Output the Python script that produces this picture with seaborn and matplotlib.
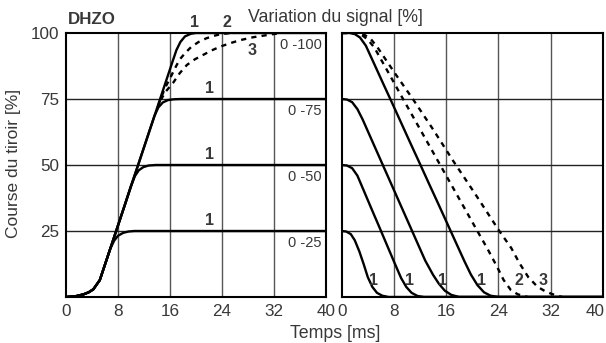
import numpy as np
import pandas as pd
import matplotlib
matplotlib.use("Agg")
import matplotlib.pyplot as plt
import matplotlib.transforms as mtrans
import seaborn as sns

# opening curves (left panel), time in ms, stroke in %
open_25_t = [0, 1.5, 2.7, 3.5, 4.2, 5.2, 6.0, 6.8, 7.4, 8.0, 8.8, 9.6, 10.5, 40]
open_25_y = [0, 0.3, 1.0, 1.8, 2.9, 6.4, 12.3, 18.2, 21.3, 23.2, 24.3, 24.8, 25, 25]
open_50_t = [0, 1.5, 2.7, 3.5, 4.2, 5.2, 6, 7, 8, 9, 10, 10.6, 11.2, 11.9, 12.7, 13.8, 40]
open_50_y = [0, 0.3, 1, 1.8, 2.9, 6.4, 12.3, 19.7, 27.1, 34.5, 42, 45.8, 48, 49.2, 49.8, 50, 50]
open_75_t = [0, 1.5, 2.7, 3.5, 4.2, 5.2, 6, 7, 8, 9, 10, 11, 12, 13, 13.6, 14.2, 14.9, 15.7, 16.6, 17.6, 40]
open_75_y = [0, 0.3, 1, 1.8, 2.9, 6.4, 12.3, 19.7, 27.1, 34.5, 42, 49.3, 56.7, 64.1, 68.5, 71.8, 73.7, 74.6, 74.9, 75, 75]
open_100_t = [0, 1.5, 2.7, 3.5, 4.2, 5.2, 6, 7, 8, 9, 10, 11, 12, 13, 14, 15, 16, 16.5, 17, 17.6, 18.3, 19.2, 20, 40]
open_100_y = [0, 0.3, 1, 1.8, 2.9, 6.4, 12.3, 19.7, 27.1, 34.5, 42, 49.3, 56.7, 64.1, 71.5, 78.9, 86.3, 90, 93.6, 96.6, 98.7, 99.7, 100, 100]
open_d2_t = [14.2, 14.7, 15.3, 16.0, 16.8, 17.5, 18.4, 19.3, 20.4, 21.6, 22.7, 23.7, 25, 26]
open_d2_y = [72.5, 75.9, 79.5, 82.8, 86.8, 90.0, 92.6, 94.8, 96.6, 98.0, 98.9, 99.5, 99.9, 100]
open_d3_t = [14.0, 14.5, 15.4, 16.5, 17.5, 18.6, 19.8, 21.1, 22.4, 23.7, 25.2, 26.8, 28.8, 30.9, 32.5]
open_d3_y = [71.0, 74.4, 78.0, 81.2, 84.8, 87.9, 90.0, 91.7, 93.4, 94.8, 96.1, 97.3, 98.4, 99.2, 99.8]

# closing curves (right panel)
close_25_t = [0, 0.7, 1.4, 2.0, 2.7, 3.4, 4.0, 4.7, 5.4, 6.2, 7.2, 40]
close_25_y = [25, 24.8, 23.8, 21.5, 17.3, 12.2, 7.5, 3.8, 1.6, 0.5, 0, 0]
close_50_t = [0, 0.8, 1.6, 2.4, 3.4, 4.6, 5.8, 7.0, 8.1, 9.1, 9.9, 10.7, 11.6, 12.6, 40]
close_50_y = [50, 49.8, 48.8, 46, 40.2, 33.2, 26.3, 19.3, 12.9, 7.2, 3.8, 1.6, 0.4, 0, 0]
close_75_t = [0, 0.8, 1.6, 2.4, 3.2, 4.4, 5.8, 7.2, 8.6, 10, 11.4, 12.8, 14.0, 14.9, 15.8, 16.8, 18, 40]
close_75_y = [75, 74.8, 73.8, 71.2, 67.3, 60.6, 52.8, 45, 37.2, 29.4, 21.6, 13.8, 8.4, 5, 2.4, 0.8, 0, 0]
close_100_t = [0, 1.2, 2.0, 2.8, 3.7, 5.0, 6.4, 7.8, 9.2, 10.6, 12, 13.4, 14.8, 16.2, 17.6, 18.8, 19.8, 20.8, 21.8, 22.8, 24, 40]
close_100_y = [100, 100, 99.6, 98.3, 95.2, 88.2, 80.6, 73.1, 65.5, 57.9, 50.4, 42.8, 35.3, 27.7, 20.1, 13.6, 8.5, 4.5, 1.8, 0.5, 0, 0]
close_d2_t = [0, 2, 3, 4, 5, 7.2, 9.4, 12, 14.8, 17.6, 20.4, 22.4, 23.8, 24.8, 25.9, 27, 28.5]
close_d2_y = [100, 100, 99.4, 97.5, 94.5, 84.8, 75, 63.6, 51.3, 39, 26.7, 18, 11.5, 6.5, 2.7, 1, 0]
close_d3_t = [0, 2.5, 3.5, 4.5, 5.5, 8.2, 10.9, 14, 17.1, 20.6, 24.1, 26, 27.2, 28.6, 30, 31.3, 32.6, 33.8]
close_d3_y = [100, 100, 99.3, 97.6, 94.5, 84.6, 75, 63.5, 51.5, 38.5, 25.2, 18.5, 13, 7.5, 3.9, 2, 0.8, 0]

x_ticks = [0, 8, 16, 24, 32, 40]
y_ticks = [25, 50, 75, 100]
range_labels = ["0 -25", "0 -50", "0 -75", "0 -100"]
close_label_t = [4.9, 10.35, 15.4, 21.4, 27.2, 30.9]
close_label_txt = ["1", "1", "1", "1", "2", "3"]

sns.set_theme(style="white")
plt.rcParams["font.family"] = ["Liberation Sans", "DejaVu Sans"]
TXT = "#383838"

fig = plt.figure(figsize=(6.06, 3.43), dpi=100)
ax1 = fig.add_axes([66 / 606, 46 / 343, 260 / 606, 264 / 343])
ax2 = fig.add_axes([341.7 / 606, 46 / 343, 261 / 606, 264 / 343])

solid = dict(color="black", linewidth=1.7, sort=False, estimator=None)
dashed = dict(color="black", linewidth=1.7, sort=False, estimator=None, linestyle=(0, (2.2, 2.2)))

for t, y in [(open_25_t, open_25_y), (open_50_t, open_50_y), (open_75_t, open_75_y), (open_100_t, open_100_y)]:
    sns.lineplot(x=t, y=y, ax=ax1, **solid)
for t, y in [(open_d2_t, open_d2_y), (open_d3_t, open_d3_y)]:
    sns.lineplot(x=t, y=y, ax=ax1, **dashed)
for t, y in [(close_25_t, close_25_y), (close_50_t, close_50_y), (close_75_t, close_75_y), (close_100_t, close_100_y)]:
    sns.lineplot(x=t, y=y, ax=ax2, **solid)
for t, y in [(close_d2_t, close_d2_y), (close_d3_t, close_d3_y)]:
    sns.lineplot(x=t, y=y, ax=ax2, **dashed)

for ax in (ax1, ax2):
    ax.set_xlim(0, 40)
    ax.set_ylim(0, 100)
    ax.set_xticks(x_ticks)
    ax.set_yticks(y_ticks)
    ax.set_xlabel("")
    ax.set_ylabel("")
    for v in x_ticks[1:-1]:
        ax.axvline(v, color="#555555", linewidth=1.0, zorder=0)
    for v in y_ticks[:-1]:
        ax.axhline(v, color="#222222", linewidth=1.0, zorder=0)
    for s in ax.spines.values():
        s.set_color("black")
        s.set_linewidth(1.5)
    ax.tick_params(axis="both", length=0, labelsize=12.3, labelcolor=TXT, pad=5)
    ax.set_facecolor("white")

ax2.set_yticklabels([])
# last tick label of the right panel sits a little inside the figure edge
fig.canvas.draw()
last = ax2.xaxis.get_major_ticks()[-1].label1
base_tr = last.get_transform()
last.set_horizontalalignment("right")
last.set_transform(base_tr + mtrans.ScaledTranslation(2 / 100, 0, fig.dpi_scale_trans))

for lvl, lab in zip(y_ticks, range_labels):
    ax1.text(39.3, lvl - 4.5, lab, ha="right", va="center", fontsize=10.5, color=TXT)
    if lvl < 100:
        ax1.text(22.1, lvl + 2.3, "1", ha="center", va="baseline", fontsize=11.5, fontweight="bold", color=TXT)

ax1.text(19.8, 102.2, "1", ha="center", va="baseline", fontsize=11.5, fontweight="bold", color=TXT, clip_on=False)
ax1.text(24.8, 102.2, "2", ha="center", va="baseline", fontsize=11.5, fontweight="bold", color=TXT, clip_on=False)
ax1.text(28.6, 91.7, "3", ha="center", va="baseline", fontsize=11.5, fontweight="bold", color=TXT)

for tx, lab in zip(close_label_t, close_label_txt):
    ax2.text(tx, 4.5, lab, ha="center", va="baseline", fontsize=11.5, fontweight="bold", color=TXT)

fig.text(68 / 606, 1 - 24 / 343, "DHZO", ha="left", va="baseline", fontsize=12.2, fontweight="bold", color=TXT)
fig.text(248 / 606, 1 - 22 / 343, "Variation du signal [%]", ha="left", va="baseline", fontsize=12.8, color=TXT)
fig.text(14 / 606, 1 - 163 / 343, "Course du tiroir [%]", ha="center", va="center", rotation=90, fontsize=12.5, color=TXT)
fig.text(335 / 606, 1 - 338 / 343, "Temps [ms]", ha="center", va="baseline", fontsize=12.8, color=TXT)

fig.savefig("out.png", dpi=100, facecolor="white")
